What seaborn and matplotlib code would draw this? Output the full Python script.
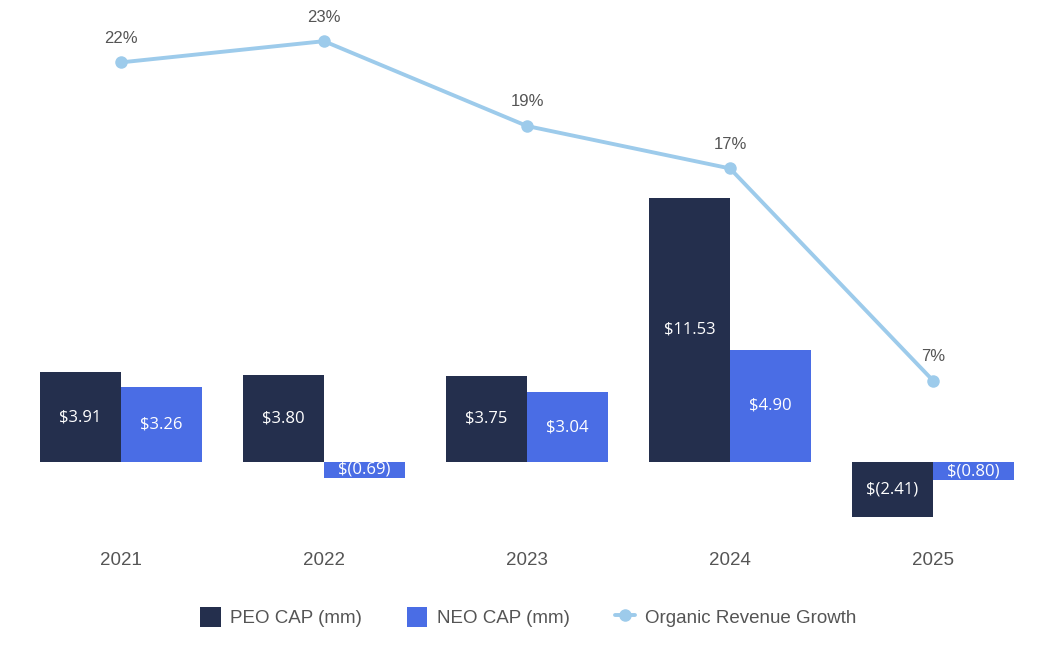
import matplotlib
matplotlib.use("Agg")
import matplotlib.pyplot as plt
import seaborn as sns
import numpy as np
import pandas as pd
from matplotlib.patches import Patch
from matplotlib.lines import Line2D

years = ["2021", "2022", "2023", "2024", "2025"]
peo_cap = [3.91, 3.80, 3.75, 11.53, -2.41]
neo_cap = [3.26, -0.69, 3.04, 4.90, -0.80]
revenue_growth = [22, 23, 19, 17, 7]
series_names = ["PEO CAP (mm)", "NEO CAP (mm)", "Organic Revenue Growth"]

peo_color = "#242f4d"
neo_color = "#4a6de5"
line_color = "#9dcbeb"
text_color = "#555555"

sns.set_theme(style="white")
plt.rcParams["font.family"] = ["Liberation Sans", "DejaVu Sans"]

df = pd.DataFrame({
    "Year": years * 2,
    "Value": peo_cap + neo_cap,
    "Series": [series_names[0]] * len(years) + [series_names[1]] * len(years),
})

def money(v):
    return f"${v:.2f}" if v >= 0 else f"$({abs(v):.2f})"

fig = plt.figure(figsize=(10.56, 6.72), dpi=100)
ax = fig.add_axes([19.5 / 1056, 0.2039, 1015 / 1056, 0.7664])

sns.barplot(data=df, x="Year", y="Value", hue="Series", ax=ax, width=0.8,
            palette=[peo_color, neo_color], saturation=1, legend=False, linewidth=0)
ax.set_xlim(-0.5, 4.5)
ax.set_ylim(-3.19, 19.3)

for cont, vals in zip(ax.containers, [peo_cap, neo_cap]):
    ax.bar_label(cont, labels=[money(v) for v in vals], label_type="center",
                 color="white", fontsize=12, family="Open Sans")

ax2 = ax.twinx()
sns.lineplot(x=np.arange(len(years)), y=revenue_growth, ax=ax2, color=line_color,
             linewidth=2.8, marker="o", markersize=9, markeredgewidth=0)
ax2.set_ylim(-0.28, 24.0)
for i, g in enumerate(revenue_growth):
    ax2.annotate(f"{g}%", (i, g), xytext=(0, 12), textcoords="offset points",
                 ha="center", va="bottom", fontsize=12, color=text_color)

for a in (ax, ax2):
    for s in a.spines.values():
        s.set_visible(False)
    a.set_yticks([])
    a.set_ylabel("")
ax.set_xlabel("")
ax.tick_params(axis="x", length=0, pad=12, labelsize=13.5, labelcolor=text_color)

handles = [
    Patch(facecolor=peo_color, edgecolor="none"),
    Patch(facecolor=neo_color, edgecolor="none"),
    Line2D([0], [0], color=line_color, linewidth=2.8, marker="o", markersize=8),
]
fig.legend(handles, series_names, loc="center", bbox_to_anchor=(0.5, 0.082), ncol=3,
           frameon=False, fontsize=13.5, labelcolor=text_color, handlelength=1.1,
           handleheight=1.3, columnspacing=2.4, handletextpad=0.5)

fig.savefig("out.png", dpi=100)
